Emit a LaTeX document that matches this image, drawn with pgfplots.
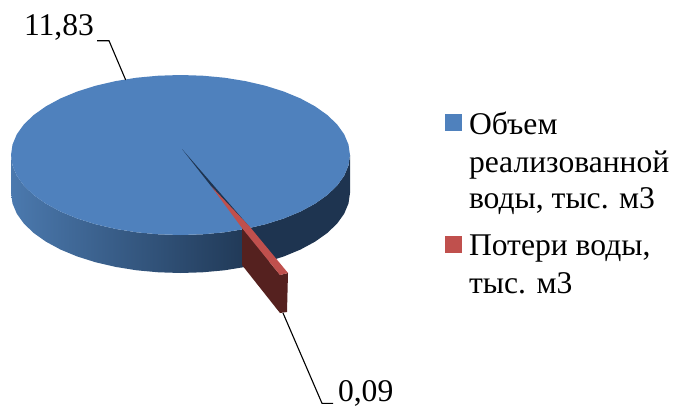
\documentclass[border=0pt]{standalone}
\usepackage{fontspec}
\setmainfont{Liberation Serif}
\usepackage{pgfplots}
\pgfplotsset{compat=1.18}
\definecolor{pieblue}{HTML}{4F81BD}
\definecolor{piered}{HTML}{C0504D}
\definecolor{wallL}{HTML}{4B79AE}
\definecolor{wallM}{HTML}{213A58}
\definecolor{wallR}{HTML}{1E3450}
\definecolor{redwall}{HTML}{55211F}
\begin{document}
\begin{tikzpicture}
\useasboundingbox (0,0) rectangle (673pt,407pt);
\begin{axis}[
  at={(0,0)}, anchor=south west,
  scale only axis, width=673pt, height=407pt,
  xmin=0, xmax=673, ymin=0, ymax=407, y dir=reverse,
  hide axis, clip=false,
  ]
% wall, left part
\addplot[draw=none, left color=wallL, right color=wallM] coordinates {
 (11,155)(12.5,165.4)(16.8,175.7)(23.9,185.6)(33.7,195)(46,203.7)(60.6,211.6)(77.3,218.5)(95.7,224.3)(115.6,228.9)(136.6,232.3)(158.4,234.3)(180.5,235)(202.6,234.3)(224.4,232.3)(243,229.3)
 (243,267.3)(224.4,270.3)(202.6,272.3)(180.5,273)(158.4,272.3)(136.6,270.3)(115.6,266.9)(95.7,262.3)(77.3,256.5)(60.6,249.6)(46,241.7)(33.7,233)(23.9,223.6)(16.8,213.7)(12.5,203.4)(11,193)
} -- cycle;
% wall, right part
\addplot[draw=none, fill=wallR] coordinates {
 (243,229.3)(245.4,228.9)(265.3,224.3)(283.7,218.5)(300.4,211.6)(315,203.7)(327.3,195)(337.1,185.6)(344.2,175.7)(348.5,165.4)(350,155)
 (350,193)(348.5,203.4)(344.2,213.7)(337.1,223.6)(327.3,233)(315,241.7)(300.4,249.6)(283.7,256.5)(265.3,262.3)(245.4,266.9)(243,267.3)
} -- cycle;
% top face of the large sector
\addplot[draw=none, fill=pieblue] coordinates {
 (350,155)(348.5,144.6)(344.2,134.3)(337.1,124.4)(327.3,115)(315,106.3)(300.4,98.4)(283.7,91.5)(265.3,85.7)(245.4,81.1)(224.4,77.7)(202.6,75.7)(180.5,75)
 (158.4,75.7)(136.6,77.7)(115.6,81.1)(95.7,85.7)(77.3,91.5)(60.6,98.4)(46,106.3)(33.7,115)(23.9,124.4)(16.8,134.3)(12.5,144.6)(11,155)
 (12.5,165.4)(16.8,175.7)(23.9,185.6)(33.7,195)(46,203.7)(60.6,211.6)(77.3,218.5)(95.7,224.3)(115.6,228.9)(136.6,232.3)(158.4,234.3)(180.5,235)(202.6,234.3)(224.4,232.3)(245.4,228.9)(265.3,224.3)(283.7,218.5)(300.4,211.6)(315,203.7)(327.3,195)(337.1,185.6)(344.2,175.7)(348.5,165.4)
} -- cycle;
% cut face of the large sector
\addplot[draw=none, fill=wallR] coordinates {(182,149)(250,227.5)(245,228)(211,186)} -- cycle;
% pulled-out small sector
\addplot[draw=none, fill=redwall] coordinates {(242,228)(280,275)(288,273)(287,312)(280,313)(242,265)} -- cycle;
\addplot[draw=none, fill=piered] coordinates {(211,186)(242,228)(280,275)(288,273)(250,227)} -- cycle;
% leader lines
\addplot[black, line width=1.1pt] coordinates {(97,40.7)(109,40.7)(125.7,80)};
\addplot[black, line width=1.1pt] coordinates {(283,313)(322,403.3)(333,403.3)};
% legend keys
\addplot[draw=none, fill=pieblue] coordinates {(445,114)(462,114)(462,131)(445,131)} -- cycle;
\addplot[draw=none, fill=piered] coordinates {(445,236)(462,236)(462,253)(445,253)} -- cycle;
% text
\def\lab{\fontsize{31.6}{37}\selectfont}
\tikzset{txt/.style={anchor=base west, inner sep=0pt, outer sep=0pt}}
\node[txt] at (axis cs:24,35) {\lab 11,83};
\node[txt] at (axis cs:338,401.5) {\lab 0,09};
\node[txt] at (axis cs:469,134) {\lab Объем};
\node[txt] at (axis cs:469,172) {\lab реализованной};
\node[txt] at (axis cs:469,208) {\lab воды, тыс. м3};
\node[txt] at (axis cs:469,255.5) {\lab Потери воды,};
\node[txt] at (axis cs:469,293) {\lab тыс. м3};
\end{axis}
\end{tikzpicture}
\end{document}
